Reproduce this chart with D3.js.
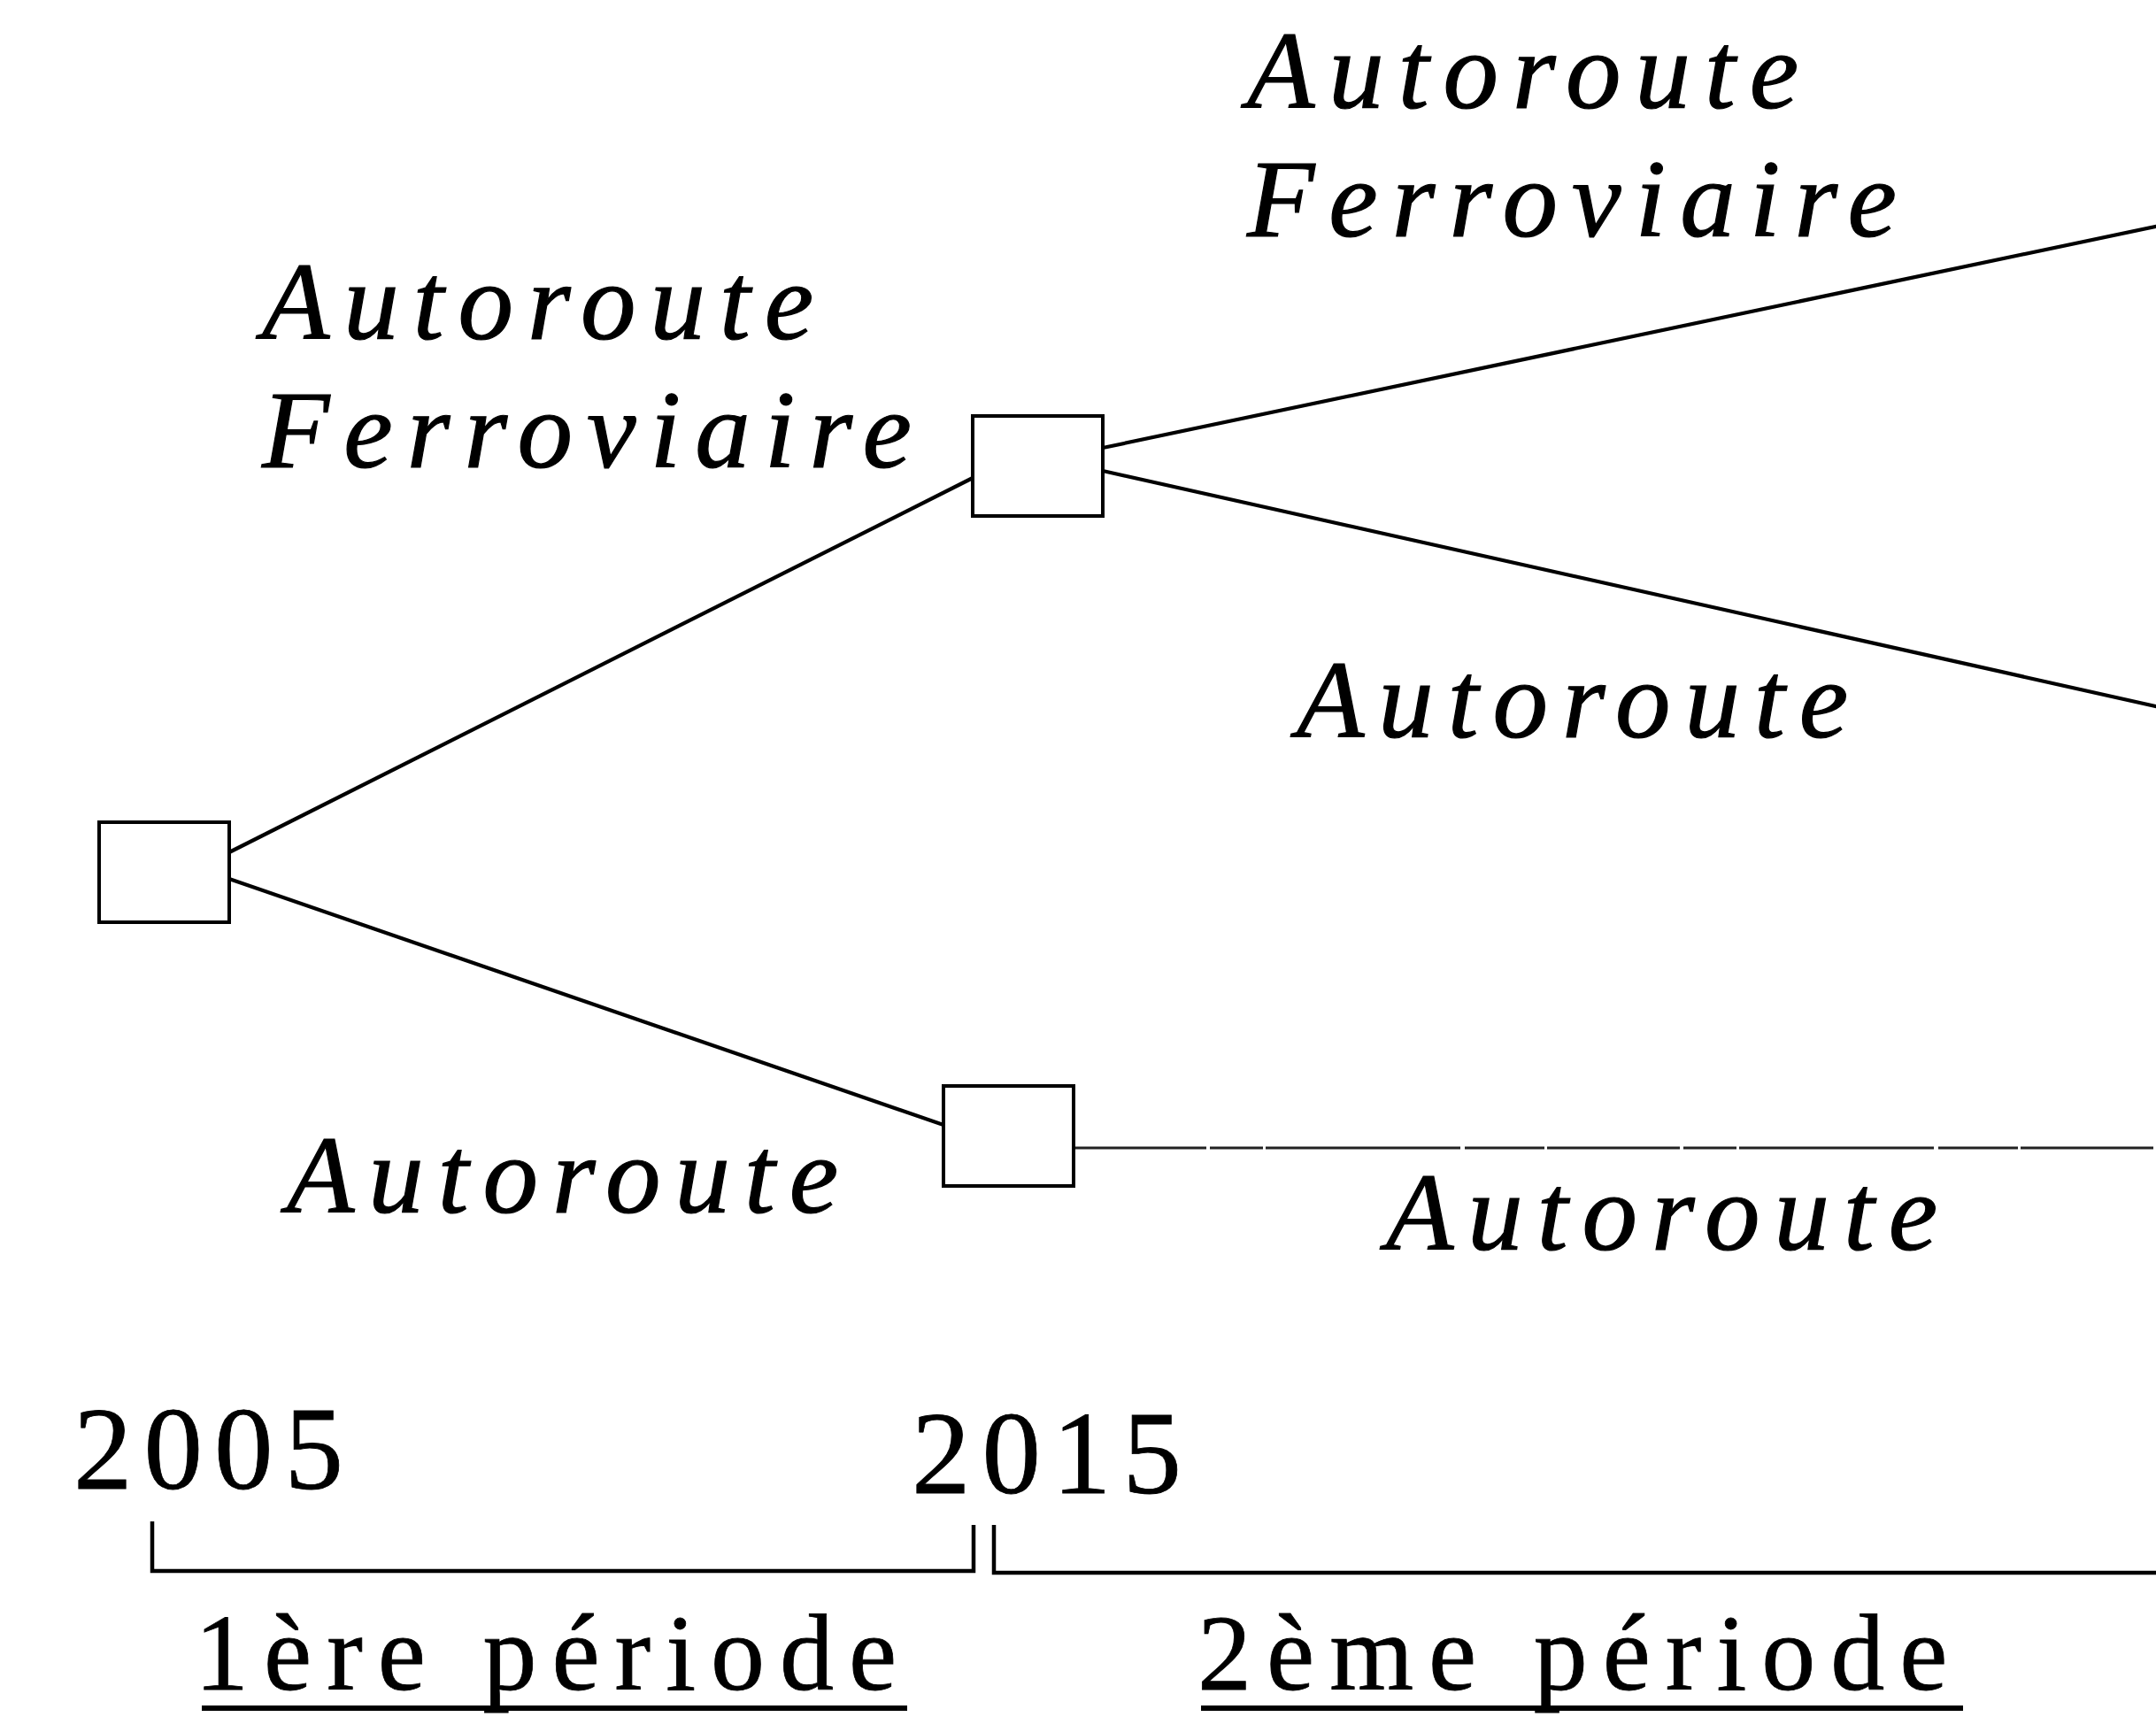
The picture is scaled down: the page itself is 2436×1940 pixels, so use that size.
<!DOCTYPE html>
<html>
<head>
<meta charset="utf-8">
<script src="https://cdn.jsdelivr.net/npm/d3@7"></script>
<style>
  html, body { margin: 0; padding: 0; background: #fff; }
  svg { display: block; }
</style>
</head>
<body>
<script>
// ---------- DATA ----------
const years = ["2005", "2015"];
const periodLabels = ["1ère période", "2ème période"];
const nodeIds = ["root", "A", "B"];
const nodeYears = [2005, 2015, 2015];
const edgeSources = ["root", "root", "A", "A", "B"];
const edgeTargets = ["A", "B", "end1", "end2", "end3"];
const edgeLabels = [
  ["Autoroute", "Ferroviaire"],
  ["Autoroute"],
  ["Autoroute", "Ferroviaire"],
  ["Autoroute"],
  ["Autoroute"]
];
const edgeDashed = [false, false, false, false, true];

// ---------- LAYOUT ----------
const W = 2436, H = 1940;
const x = d3.scaleLinear().domain([2005, 2015]).range([112, 1099]);   // left edge of node box by year
const boxW = 147, boxH = 113;
const nodeLayout = {
  root: { dx: 0,   top: 929 },
  A:    { dx: 0,   top: 470 },
  B:    { dx: -33, top: 1227 }
};
const edgeLayout = [
  { sy: 34, ty: 70 },
  { sy: 64, ty: 44 },
  { sy: 36, ex: 2440, ey: 255 },
  { sy: 62, ex: 2440, ey: 799 },
  { sy: 70, ex: 2440, ey: 1297 }
];
const labelLayout = [
  { x: 296, y: 383 },
  { x: 324, y: 1370 },
  { x: 1409, y: 122 },
  { x: 1465, y: 833 },
  { x: 1566, y: 1412 }
];
const lineGap = 145;
const serif = "'Liberation Serif', 'Times New Roman', Times, serif";

const svg = d3.select("body").append("svg").attr("width", W).attr("height", H);

const nodes = nodeIds.map((id, i) => {
  const L = nodeLayout[id];
  const left = x(nodeYears[i]) + L.dx;
  return { id, left, top: L.top, right: left + boxW };
});
const byId = Object.fromEntries(nodes.map(n => [n.id, n]));

// edges
const edges = edgeSources.map((s, i) => {
  const S = byId[s], E = edgeLayout[i];
  const T = byId[edgeTargets[i]];
  return {
    x1: S.right, y1: S.top + E.sy,
    x2: T ? T.left : E.ex, y2: T ? T.top + E.ty : E.ey,
    dashed: edgeDashed[i]
  };
});
svg.append("g").selectAll("line").data(edges).join("line")
  .attr("x1", d => d.x1).attr("y1", d => d.y1)
  .attr("x2", d => d.x2).attr("y2", d => d.y2)
  .attr("stroke", d => d.dashed ? "#222" : "#000")
  .attr("stroke-width", d => d.dashed ? 3 : 4.2)
  .attr("stroke-dasharray", d => d.dashed ? "150 4 60 3 220 5 90 3" : null);

// boxes
svg.append("g").selectAll("rect").data(nodes).join("rect")
  .attr("x", d => d.left).attr("y", d => d.top)
  .attr("width", boxW).attr("height", boxH)
  .attr("fill", "#fff").attr("stroke", "#000").attr("stroke-width", 4);

// edge labels
const lab = svg.append("g")
  .attr("font-family", serif)
  .attr("font-style", "italic")
  .attr("font-size", 125)
  .attr("letter-spacing", 16)
  .attr("fill", "#000")
  .attr("stroke", "#000").attr("stroke-width", 1.2);
lab.selectAll("text").data(edgeLabels).join("text")
  .attr("x", (d, i) => labelLayout[i].x)
  .attr("y", (d, i) => labelLayout[i].y)
  .selectAll("tspan").data(d => d).join("tspan")
  .attr("x", function () { return this.parentNode.getAttribute("x"); })
  .attr("dy", (d, j) => j === 0 ? 0 : lineGap)
  .text(d => d);

// timeline years
const yearLayout = [{ x: 83, y: 1682 }, { x: 1030, y: 1687 }];
svg.append("g")
  .attr("font-family", serif)
  .attr("font-size", 133)
  .attr("letter-spacing", 13)
  .attr("stroke", "#000").attr("stroke-width", 0.8)
  .selectAll("text").data(years).join("text")
  .attr("x", (d, i) => yearLayout[i].x)
  .attr("y", (d, i) => yearLayout[i].y)
  .text(d => d);

// brackets
const bracketLayout = [
  { x1: 172, x2: 1100, top1: 1719, top2: 1723, bottom: 1775, closed: true },
  { x1: 1123, x2: 2440, top1: 1723, top2: 1723, bottom: 1777, closed: false }
];
svg.append("g").selectAll("path").data(periodLabels).join("path")
  .attr("d", (d, i) => {
    const b = bracketLayout[i];
    const p = d3.path();
    p.moveTo(b.x1, b.top1); p.lineTo(b.x1, b.bottom); p.lineTo(b.x2, b.bottom);
    if (b.closed) p.lineTo(b.x2, b.top2);
    return p.toString();
  })
  .attr("fill", "none").attr("stroke", "#000").attr("stroke-width", 4.5);

// period labels (underlined)
const periodLayout = [{ x: 220, y: 1909, ux1: 228, ux2: 1025 }, { x: 1353, y: 1909, ux1: 1357, ux2: 2218 }];
const pg = svg.append("g");
pg.selectAll("text").data(periodLabels).join("text")
  .attr("x", (d, i) => periodLayout[i].x)
  .attr("y", (d, i) => periodLayout[i].y)
  .attr("font-family", serif)
  .attr("font-size", 122)
  .attr("letter-spacing", 17)
  .attr("stroke", "#000").attr("stroke-width", 0.8)
  .text(d => d);
pg.selectAll("rect").data(periodLabels).join("rect")
  .attr("x", (d, i) => periodLayout[i].ux1)
  .attr("width", (d, i) => periodLayout[i].ux2 - periodLayout[i].ux1)
  .attr("y", 1927).attr("height", 6).attr("fill", "#000");
</script>
</body>
</html>
